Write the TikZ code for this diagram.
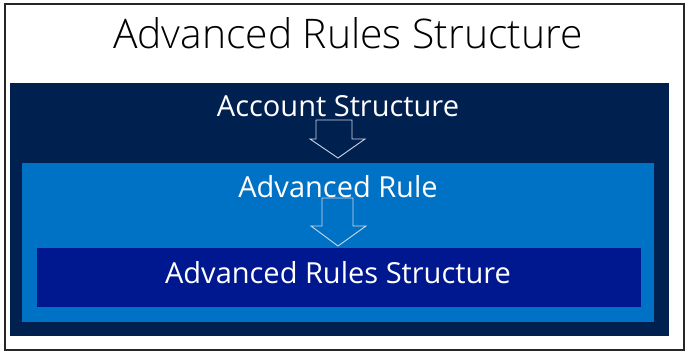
\documentclass[tikz,border=0pt]{standalone}
\usepackage{fontspec}
\setmainfont{Open Sans}
\newfontfamily\titlefont{Open Sans Light}
\usepackage{tikz}
\definecolor{navybg}{RGB}{0,32,80}
\definecolor{rulebg}{RGB}{0,114,198}
\definecolor{innerbg}{RGB}{0,24,143}
\definecolor{arrowline}{RGB}{205,215,228}

\begin{document}
\begin{tikzpicture}[x=1pt, y=-1pt,
    label/.style={text=white, font=\fontsize{29}{34}\selectfont, inner sep=0pt},
    hollow/.style={draw=arrowline, line width=0.9pt, line join=miter}]
	% --- frame ---
	\useasboundingbox (0,0) rectangle (688,356);
	\draw[line width=1.6pt, black!85] (5,4) rectangle (684,350);
	\node[inner sep=0pt, font=\titlefont\fontsize{40.8}{48}\selectfont] (title) at (348,33) {Advanced Rules Structure};
	
	% --- nested boxes ---
	\fill[navybg] (10,83) rectangle (669,336);
	\fill[rulebg] (22,163) rectangle (654,322);
	\fill[innerbg] (37,248) rectangle (641,307);
	
	\node[label] (account) at (338,106) {Account Structure};
	\node[label] (rule) at (338,187) {Advanced Rule};
	\node[label] (rules) at (338,273) {Advanced Rules Structure};
	
	% --- hollow arrows ---
	\draw[hollow] (316,120) -- (352,120) -- (352,139) -- (365,139) -- (338,158)
		-- (310,139) -- (316,139) -- cycle;
	\draw[hollow] (322,198) -- (353,198) -- (353,226) -- (366,226) -- (338,246)
		-- (311,226) -- (322,226) -- cycle;
\end{tikzpicture}
\end{document}
